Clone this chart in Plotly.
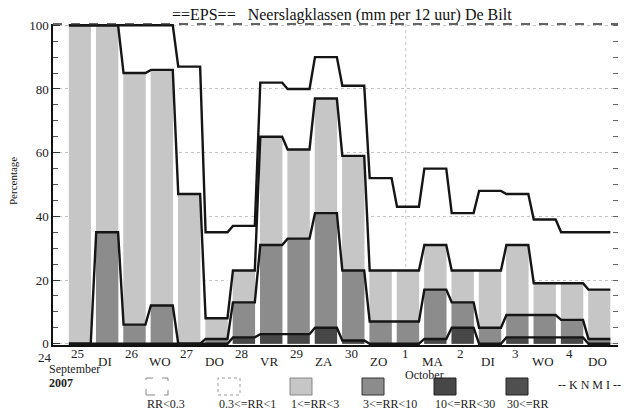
import plotly.graph_objects as go

# ---------------- data ----------------
# 12-hourly steps starting 25 Sep 2007 00 UTC
step_hours = [0, 12, 24, 36, 48, 60, 72, 84, 96, 108,
              120, 132, 144, 156, 168, 180, 192, 204, 216, 228]
# cumulative probabilities (%) of exceeding each class threshold
p_ge_03 = [100, 100, 100, 100, 87, 35, 37, 82, 80, 90, 81, 52, 43, 55, 41, 48, 47, 39, 35, 35]
p_ge_1 = [100, 100, 85, 86, 47, 8, 23, 65, 61, 77, 59, 23, 23, 31, 23, 23, 31, 19, 19, 17]
p_ge_3 = [0, 35, 6, 12, 0, 1.5, 13, 31, 33, 41, 23, 7, 7, 17, 13, 5, 9, 9, 7.5, 1.5]
p_ge_10 = [0, 0, 0, 0, 0, 0, 2, 3, 3, 5, 1, 0, 0, 1.5, 5, 0, 2, 2, 2, 0]
p_ge_30 = [0, 0, 0, 0, 0, 0, 0, 0, 0, 0, 0, 0, 0, 0, 0, 0, 0, 0, 0, 0]

date_labels = ["24", "25", "26", "27", "28", "29", "30", "1", "2", "3", "4", "5"]
day_labels = ["DI", "WO", "DO", "VR", "ZA", "ZO", "MA", "DI", "WO", "DO"]
legend_labels = ["RR&lt;0.3", "0.3&lt;=RR&lt;1", "1&lt;=RR&lt;3",
                 "3&lt;=RR&lt;10", "10&lt;=RR&lt;30", "30&lt;=RR"]
y_ticks = [0, 20, 40, 60, 80, 100]

# ---------------- styling ----------------
W, H = 630, 414
L, R, T, B = 53, 12, 24, 69
X0, X1 = -0.45, 9.88
PW, PH = W - L - R, H - T - B
FONT = "Liberation Serif"
C_LIGHT = "#c6c6c6"
C_MED = "#8c8c8c"
C_DARK = "#474747"
C_DARKEST = "#333333"
LINE = "#151515"

OFFSET = 0.04   # bar centre offset in days
HALF = 0.2      # plateau half-width in days
GAP = 0.09      # white gap width in days


def px(xp):
    return (xp - L) / PW


def py(yp):
    return 1 - (yp - T) / PH


centers = [h / 24 + OFFSET for h in step_hours]


def poly(vals):
    xs, ys = [], []
    for c, v in zip(centers, vals):
        xs += [c - HALF, c + HALF]
        ys += [v, v]
    return xs, ys


fig = go.Figure()

# filled class areas
for vals, col in [(p_ge_1, C_LIGHT), (p_ge_3, C_MED), (p_ge_10, C_DARK), (p_ge_30, C_DARKEST)]:
    xs, ys = poly(vals)
    fig.add_trace(go.Scatter(x=xs, y=ys, mode="lines", fill="tozeroy",
                             fillcolor=col, line=dict(width=0, color=col),
                             hoverinfo="skip"))

# white gaps between the 12-hour bars
gx, gy = [], []
for k in range(len(centers) - 1):
    g = (centers[k] + centers[k + 1]) / 2
    top = max(p_ge_1[k], p_ge_1[k + 1]) + 0.5
    gx += [g - GAP / 2, g - GAP / 2, g + GAP / 2, g + GAP / 2, g - GAP / 2, None]
    gy += [-0.5, top, top, -0.5, -0.5, None]
fig.add_trace(go.Scatter(x=gx, y=gy, mode="lines", fill="toself", fillcolor="white",
                         line=dict(width=0, color="white"), hoverinfo="skip"))

# probability lines
for vals in [p_ge_03, p_ge_1, p_ge_3, p_ge_10]:
    xs, ys = poly(vals)
    fig.add_trace(go.Scatter(x=xs, y=ys, mode="lines",
                             line=dict(width=2.4, color=LINE), hoverinfo="skip"))

# invisible trace for the right-hand tick axis
fig.add_trace(go.Scatter(x=[X0], y=[0], yaxis="y2", mode="markers",
                         marker=dict(opacity=0), hoverinfo="skip"))

fig.update_layout(
    width=W, height=H,
    margin=dict(l=L, r=R, t=T, b=B, pad=0),
    paper_bgcolor="white", plot_bgcolor="white",
    showlegend=False,
    font=dict(family=FONT, size=12, color="#222"),
    xaxis=dict(range=[X0, X1], showgrid=False, zeroline=False,
               showticklabels=False, ticks="", showline=True,
               linecolor="#111", linewidth=2),
    yaxis=dict(range=[-0.4, 100.4], tickvals=y_ticks, ticks="inside", ticklen=7,
               tickcolor="#333", showline=True, linecolor="#111", linewidth=1.5,
               showgrid=True, gridcolor="#c4c4c4", griddash="dot", gridwidth=1,
               zeroline=False, tickfont=dict(family=FONT, size=13, color="#222"),
               minor=dict(dtick=5, ticks="inside", ticklen=5, tickcolor="#555",
                          showgrid=False)),
    yaxis2=dict(range=[-0.4, 100.4], overlaying="y", side="right", showline=False,
                showgrid=False, zeroline=False, showticklabels=False,
                tickvals=list(range(0, 101, 5)), ticks="inside", ticklen=5,
                tickcolor="#666"),
)

shapes = []
# top frame (dashed)
shapes.append(dict(type="line", xref="paper", yref="paper", x0=0, x1=1, y0=1, y1=1,
                   line=dict(color="#333", width=1.5, dash="dash"), layer="above"))
# dotted vertical grid at 1 October
shapes.append(dict(type="line", xref="x", yref="paper", x0=6, x1=6, y0=0, y1=1,
                   line=dict(color="#c4c4c4", width=1, dash="dot"), layer="below"))

annotations = []
# title
annotations.append(dict(text="==EPS==&nbsp;&nbsp;&nbsp;Neerslagklassen (mm per 12 uur) De Bilt",
                        xref="paper", yref="paper", x=px(342), y=py(15),
                        xanchor="center", yanchor="middle", showarrow=False,
                        font=dict(family=FONT, size=16, color="#111")))
# y title
annotations.append(dict(text="Percentage", xref="paper", yref="paper",
                        x=px(13), y=py(181), textangle=-90, showarrow=False,
                        xanchor="center", yanchor="middle",
                        font=dict(family=FONT, size=11, color="#111")))
# date labels: first one sits just left of the axis start
for i, lab in enumerate(date_labels):
    if i == 0:
        annotations.append(dict(text=lab, xref="paper", yref="paper", x=px(45), y=py(358),
                                xanchor="center", yanchor="middle", showarrow=False,
                                font=dict(family=FONT, size=13, color="#222")))
    else:
        annotations.append(dict(text=lab, xref="x", yref="paper", x=i - 1, y=py(354),
                                xanchor="center", yanchor="middle", showarrow=False,
                                font=dict(family=FONT, size=13, color="#222")))
# day names
for i, lab in enumerate(day_labels):
    annotations.append(dict(text=lab, xref="x", yref="paper", x=i + 0.5, y=py(362),
                            xanchor="center", yanchor="middle", showarrow=False,
                            font=dict(family=FONT, size=13, color="#222")))
annotations.append(dict(text="September", xref="paper", yref="paper", x=px(47), y=py(369),
                        xanchor="left", yanchor="middle", showarrow=False,
                        font=dict(family=FONT, size=12, color="#222")))
annotations.append(dict(text="<b>2007</b>", xref="paper", yref="paper", x=px(47), y=py(383),
                        xanchor="left", yanchor="middle", showarrow=False,
                        font=dict(family=FONT, size=12, color="#222")))
annotations.append(dict(text="October", xref="x", yref="paper", x=6.35, y=py(375),
                        xanchor="center", yanchor="middle", showarrow=False,
                        font=dict(family=FONT, size=12, color="#222")))

# legend boxes
box_fill = ["white", "white", C_LIGHT, C_MED, C_DARK, "#4f4f4f"]
box_line = ["#888", "#999", "#888", "#333", "#222", "#222"]
box_dash = ["dash", "dot", "solid", "solid", "solid", "solid"]
for i, lab in enumerate(legend_labels):
    xl = 146 + 72 * i
    shapes.append(dict(type="rect", xref="paper", yref="paper",
                       x0=px(xl), x1=px(xl + 22), y0=py(395), y1=py(378),
                       fillcolor=box_fill[i],
                       line=dict(color=box_line[i], width=1, dash=box_dash[i]),
                       layer="above"))
    annotations.append(dict(text=lab, xref="paper", yref="paper", x=px(xl - 1), y=py(404),
                            xanchor="left", yanchor="middle", showarrow=False,
                            font=dict(family=FONT, size=12, color="#222")))
annotations.append(dict(text="-- K N M I --", xref="paper", yref="paper", x=px(556), y=py(385),
                        xanchor="left", yanchor="middle", showarrow=False,
                        font=dict(family=FONT, size=12, color="#222")))

fig.update_layout(shapes=shapes, annotations=annotations)
fig.write_html("out.html", config={"displayModeBar": False},
               post_script="document.body.style.margin='0';document.body.style.padding='0';")
